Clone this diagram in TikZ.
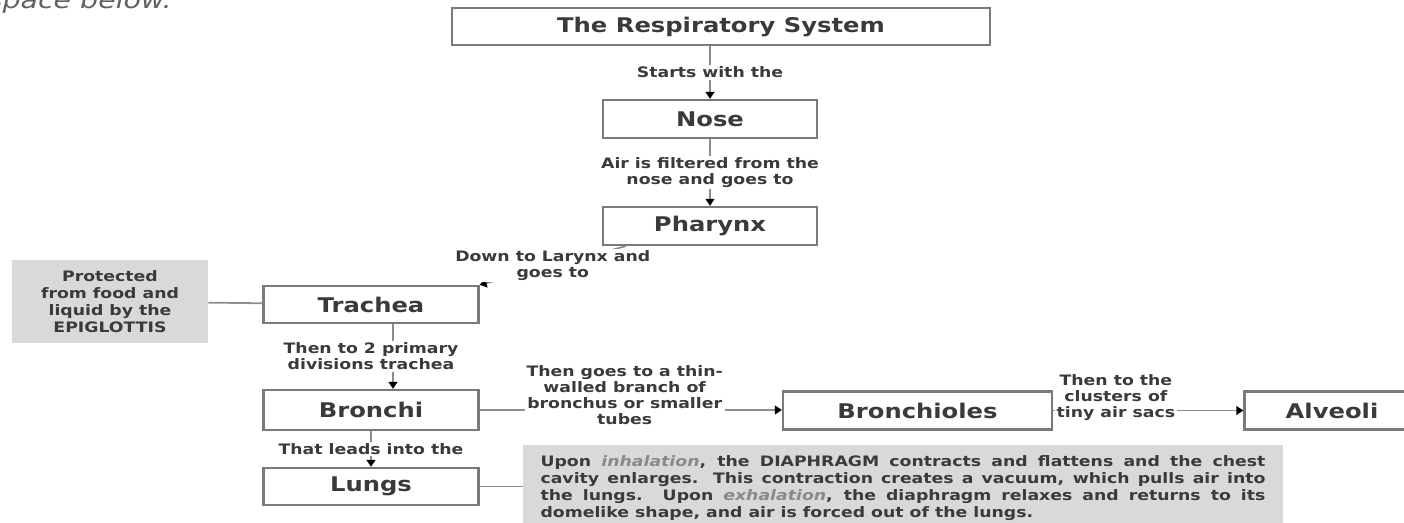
\documentclass[tikz,border=0pt]{standalone}
\usepackage{fontspec}
\newfontfamily\flowfont{DejaVu Sans}[FakeStretch=1.2]
\usetikzlibrary{arrows.meta, positioning, calc}
\definecolor{cline}{HTML}{8C8C8C}
\definecolor{cbox}{HTML}{7A7A7A}
\definecolor{ctext}{HTML}{3A3A3A}
\definecolor{cnote}{HTML}{D9D9D9}
\definecolor{cemph}{HTML}{8A8A8A}
\tikzset{
  every picture/.style={x=0.02cm, y=-0.02cm},
  box/.style={draw=cbox, fill=white, line width=1.3pt, text=ctext, minimum width=4.28cm, minimum height=0.76cm, inner sep=2pt, font=\flowfont\bfseries\fontsize{11.5}{13}\selectfont},
  note/.style={fill=cnote, text=ctext, inner sep=4pt, font=\flowfont\bfseries\fontsize{8.2}{9.8}\selectfont},
  lbl/.style={fill=white, text=ctext, align=center, inner sep=1pt, font=\flowfont\bfseries\fontsize{8.2}{9}\selectfont},
  arrow/.style={draw=cline, line width=1pt, -{Triangle[width=5pt, length=4pt, color=black]}},
  link/.style={draw=cline, line width=1pt},
}
\begin{document}
\begin{tikzpicture}
  \useasboundingbox (0,0) rectangle (1404,522);
  % cut-off line of the worksheet above
  \node[font=\flowfont\itshape\fontsize{13.5}{15}\selectfont, text=ctext!80, anchor=base east, inner sep=0pt] (hint) at (172,8) {space below.};
  % main chain
  \node[box, minimum width=10.76cm, minimum height=0.74cm] (title) at (721,26.5) {The Respiratory System};
  \node[box] (nose) at (710,119) {Nose};
  \node[box] (pharynx) at (710,226) {Pharynx};
  \node[box, minimum width=4.3cm, minimum height=0.74cm] (trachea) at (371,304.5) {Trachea};
  \node[box, minimum width=4.3cm, minimum height=0.8cm] (bronchi) at (371,410) {Bronchi};
  \node[box, minimum width=4.3cm, minimum height=0.74cm] (lungs) at (371,486.5) {Lungs};
  \node[box, minimum width=5.38cm] (bronchioles) at (917.5,410.5) {Bronchioles};
  \node[box, minimum width=3.5cm] (alveoli) at (1332,410.5) {Alveoli};
  % grey side notes
  \node[note, align=center, minimum width=3.92cm, minimum height=1.66cm] (epiglottis) at (110,301.5) {Protected\\from food and\\liquid by the\\EPIGLOTTIS};
  \node[note, text width=14.5cm, inner xsep=0.35cm, align=justify, minimum height=1.72cm] (breath) at (903,488) {Upon {\color{cemph}\itshape inhalation}, the DIAPHRAGM contracts and flattens and the chest\linebreak cavity enlarges. This contraction creates a vacuum, which pulls air into\linebreak the lungs. Upon {\color{cemph}\itshape exhalation}, the diaphragm relaxes and returns to its\linebreak domelike shape, and air is forced out of the lungs.};
  % connectors
  \draw[arrow] (title.south -| nose.north) -- node[lbl] {Starts with the} (nose.north);
  \draw[arrow] (nose) -- node[lbl] {Air is filtered from the\\nose and goes to} (pharynx);
  \draw[arrow] ([xshift=0.48cm]pharynx.south west) -- node[lbl] {Down to Larynx and\\goes to} (trachea.north east);
  \draw[link] (epiglottis) -- (trachea);
  \draw[arrow] ([xshift=0.44cm]trachea.south) -- ([xshift=0.44cm]bronchi.north);
  \node[lbl] (lbTrachea) at ($(trachea.south)!0.5!(bronchi.north)$) {Then to 2 primary\\divisions trachea};
  \draw[arrow] (bronchi) -- node[lbl] {That leads into the} (lungs);
  \draw[link] (lungs) -- (lungs -| breath.west);
  \draw[arrow] (bronchi.east) -- (bronchi.east -| bronchioles.west);
  \node[lbl] (lbBronchi) at ($(bronchi.east)!0.48!(bronchioles.west)+(0,-15)$) {Then goes to a thin-\\walled branch of\\bronchus or smaller\\tubes};
  \draw[arrow] (bronchioles) -- (alveoli);
  \node[lbl] (lbAlveoli) at ($(bronchioles.east)!0.33!(alveoli.west)+(0,-13)$) {Then to the\\clusters of\\tiny air sacs};
\end{tikzpicture}
\end{document}
